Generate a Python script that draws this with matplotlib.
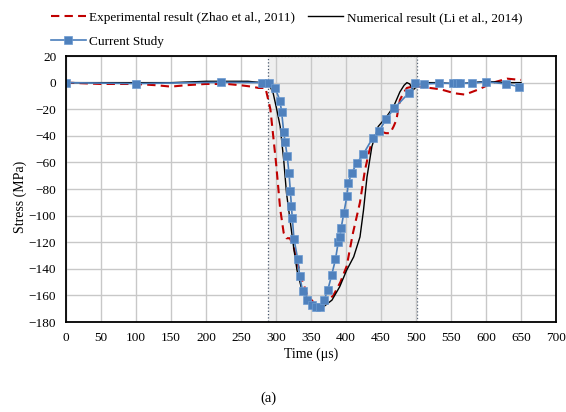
import numpy as np
import matplotlib.pyplot as plt

plt.rcParams['font.family'] = ['Liberation Serif', 'DejaVu Serif']

# experimental result (Zhao et al., 2011)
exp_t = [0, 50, 100, 130, 150, 170, 200, 230, 250, 265, 275, 285, 292, 300, 306, 311, 315, 320,
         326, 335, 345, 355, 362, 370, 382, 392, 401, 410, 420, 427, 433, 439, 445, 451, 457,
         463, 468, 472, 477, 482, 487, 495, 505, 520, 535, 555, 570, 590, 610, 630, 650]
exp_s = [0, -1, -1, -2, -3, -2, -1, -1, -2, -3, -4, -4, -20, -60, -95, -113, -117, -117,
         -125, -145, -160, -166, -168, -166, -160, -150, -138, -113, -90, -66, -52, -41, -38,
         -37, -38, -38, -33, -28, -13, -8, -4, -3, -3, -4, -5, -8, -9, -5, 0, 3, 2]

# numerical result (Li et al., 2014)
num_t = [0, 50, 100, 150, 200, 230, 260, 280, 290, 296, 301, 306, 311, 315, 320, 325, 330,
         337, 349, 358, 368, 380, 391, 401, 411, 420, 425, 430, 437, 446, 458, 468, 477, 483,
         487, 491, 496, 503, 510, 530, 560, 600, 630, 650]
num_s = [0, 0, 0, 0, 1, 1, 1, 0, -1, -8, -20, -33, -58, -83, -103, -123, -141,
         -156, -165, -168.5, -168.5, -163.5, -153.5, -141, -131, -116, -96, -71, -48, -33,
         -25.6, -18, -7, -2, 0, -1, -5.5, -1.8, 0, 0, -1, 1, 0, 0]

# current study
cur_t = [0, 100, 221, 280, 290, 298.6, 305.7, 308, 311, 313, 316, 318.6, 320.5, 322, 323.3,
         325.7, 331, 333.8, 338, 344.8, 351, 357, 362.8, 368.6, 374, 379.5, 385, 389, 391.4,
         393, 397, 401.4, 403.3, 408, 415.3, 424.8, 438, 447.6, 457.6, 469, 490, 499, 511,
         533, 553, 558, 563, 579.5, 600, 628.6, 647.6]
cur_s = [0, -0.7, 0.3, 0, -0.5, -3.8, -13.6, -21.9, -37, -44.4, -55.2, -68.2, -81.3, -92.6,
         -101.8, -117.6, -132.6, -145.2, -156.7, -163.5, -167.2, -169, -168.5, -163.5, -156,
         -144.7, -132.9, -119.6, -115.8, -109.6, -97.8, -85, -75.3, -68.2, -60.7, -53.7, -41.7,
         -36.2, -27.1, -19.3, -7.6, -0.5, -1, -0.5, -0.5, -0.5, -0.5, -0.5, 0.7, -1, -3]

xticks = np.arange(0, 701, 50)
yticks = np.arange(-180, 21, 20)

fig = plt.figure(figsize=(5.66, 4.12), dpi=100)
ax = fig.add_axes([0.1166, 0.2184, 0.8657, 0.6456])

ax.axvspan(288, 501, facecolor='#efefef', edgecolor='#44546a', linestyle=':',
           linewidth=0.9, zorder=0.2)

l_exp, = ax.plot(exp_t, exp_s, color='#c00000', ls=(0, (4, 2.5)), lw=1.5,
                 label='Experimental result (Zhao et al., 2011)')
l_num, = ax.plot(num_t, num_s, color='black', lw=1.0,
                 label='Numerical result (Li et al., 2014)')
l_cur, = ax.plot(cur_t, cur_s, color='#4a7ebb', lw=1.2, marker='s', ms=5.8,
                 markerfacecolor='#4f81bd', markeredgecolor='#6d9bd1', markeredgewidth=0.5,
                 label='Current Study')

ax.set_xlim(0, 700)
ax.set_ylim(-180, 20)
ax.set_xticks(xticks)
ax.set_yticks(yticks)
ax.set_axisbelow(True)
ax.grid(True, color='#c8c8c8', lw=1.0)
ax.tick_params(length=0, labelsize=9.5, pad=7)
for s in ax.spines.values():
    s.set_color('black')
    s.set_linewidth(1.3)

ax.set_xlabel('Time (μs)', fontsize=10, labelpad=3)
ax.set_ylabel('Stress (MPa)', fontsize=10)
ax.yaxis.set_label_coords(-0.08, 0.47)

fig.legend([l_exp, l_cur, l_num],
           [l_exp.get_label(), l_cur.get_label(), l_num.get_label()],
           ncol=2, loc='upper left', bbox_to_anchor=(0.069, 1.0), frameon=False,
           fontsize=9.5, handlelength=2.65, columnspacing=1.0, labelspacing=0.85,
           handletextpad=0.25)

fig.text(0.474, 0.025, '(a)', ha='center', fontsize=10.5)

fig.savefig('out.png', dpi=100)
